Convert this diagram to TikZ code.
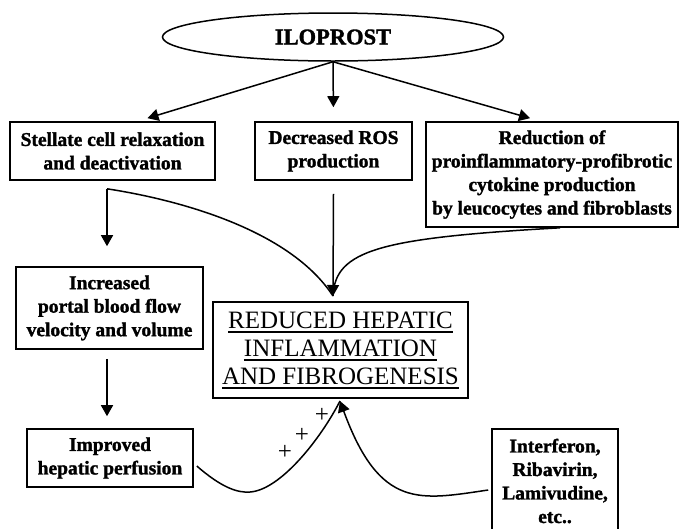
\documentclass[tikz,border=0pt]{standalone}
\usepackage{fontspec}
\setmainfont{Liberation Serif}[BoldFeatures={FakeBold=1.5}]
\usetikzlibrary{shapes.geometric,arrows.meta}
\newcommand{\hepLine}[1]{\setbox0\hbox{#1}\rlap{\rule[-4.5pt]{\wd0}{1.8pt}}\box0}

\begin{document}
\begin{tikzpicture}[x=1pt,y=-1pt, line width=1.5pt,
  box/.style={draw, line width=1.6pt, align=center, inner sep=0pt, font={\bfseries\fontsize{19.5}{23.5}\selectfont}},
  arr/.style={-{Triangle[width=12pt,length=11pt]}},
  plus/.style={inner sep=0pt, font={\fontsize{25}{25}\selectfont}}]
\useasboundingbox (0,0) rectangle (680,528);
\node[draw, ellipse, line width=1.5pt, minimum width=341pt, minimum height=48pt, inner sep=0pt, font={\bfseries\fontsize{22.5}{26}\selectfont}] (ilo) at (333,37) {ILOPROST};
\node[box, minimum width=205pt, minimum height=58pt] (stellate) at (112.5,151) {Stellate cell relaxation\\and deactivation};
\node[box, minimum width=157pt, minimum height=58pt] (ros) at (333.5,151) {Decreased ROS\\production};
\node[box, minimum width=252pt, minimum height=105pt] (cytokine) at (552,174.5) {Reduction of\\proinflammatory-profibrotic\\cytokine production\\by leucocytes and fibroblasts};
\node[box, minimum width=187pt, minimum height=82pt] (portal) at (109.5,308) {Increased\\portal blood flow\\velocity and volume};
\node[box, minimum width=166pt, minimum height=58pt] (perfusion) at (110,458) {Improved\\hepatic perfusion};
\node[draw, line width=1.6pt, align=center, inner sep=0pt, minimum width=255pt, minimum height=96pt, font={\fontsize{25}{28}\selectfont}] (hepatic) at (340.5,350) {\hepLine{REDUCED HEPATIC}\\\hepLine{INFLAMMATION}\\\hepLine{AND FIBROGENESIS}};
\node[box, minimum width=126pt, minimum height=104pt] (antiviral) at (555,481) {Interferon,\\Ribavirin,\\Lamivudine,\\etc..};
\node[plus] (p1) at (285,452) {+};
\node[plus] (p2) at (302,435) {+};
\node[plus] (p3) at (322,415) {+};
\coordinate (hub) at (333,296);
\coordinate (tip) at (340,401);
\draw[arr] (ilo.south) -- ([xshift=35pt,yshift=3pt]stellate.north);
\draw[arr, shorten >=14pt] (ilo.south) -- (ros.north);
\draw[arr] (ilo.south) -- ([xshift=-22pt,yshift=3pt]cytokine.north);
\draw[arr] ([xshift=-5.5pt,yshift=-8pt]stellate.south) -- ([xshift=-5.5pt,yshift=20pt]stellate.south |- portal.north);
\draw ([xshift=-5.5pt,yshift=-8pt]stellate.south) .. controls (180,200) and (290,230) .. (hub);
\draw[arr] ([yshift=-13pt]ros.south) -- (hub);
\draw ([xshift=8pt]cytokine.south) .. controls (380,238) and (335,250) .. (hub);
\draw[arr] ([xshift=-2.5pt,yshift=-9pt]portal.south) -- ([xshift=-2.5pt,yshift=12pt]portal.south |- perfusion.north);
\draw ([xshift=3pt,yshift=-8pt]perfusion.east) .. controls (222,488) and (238,493) .. (250,492) .. controls (280,490) and (320,440) .. (tip);
\draw[arr] ([xshift=-3pt,yshift=-9pt]antiviral.west) .. controls (420,500) and (380,510) .. (tip);
\end{tikzpicture}
\end{document}
